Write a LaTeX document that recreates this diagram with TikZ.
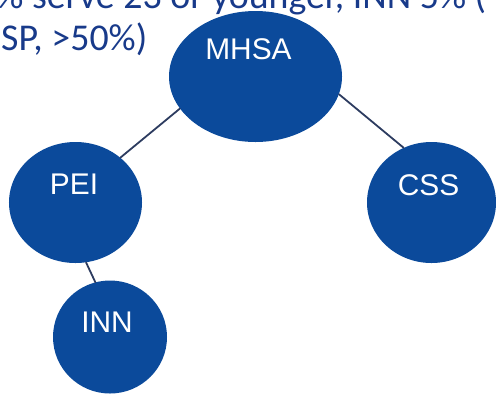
\documentclass[tikz,border=0pt]{standalone}
\usepackage{fontspec}
\setmainfont{Carlito}
\newfontfamily\arialfont{Liberation Sans}
\usetikzlibrary{shapes.geometric}
\definecolor{bubbleblue}{RGB}{11,74,155}
\definecolor{headblue}{RGB}{24,58,138}
\definecolor{linkgray}{RGB}{45,60,96}
\tikzset{
  bubble/.style={ellipse,fill=bubbleblue,inner sep=0pt},
  caption/.style={text=white,inner sep=0pt,
    font=\arialfont\fontsize{30}{36}\selectfont},
  headline/.style={anchor=base west,inner sep=0pt,text=headblue,
    font=\fontsize{38}{46}\selectfont},
  link/.style={draw=linkgray,line width=1.8bp}
}
\begin{document}
\begin{tikzpicture}[x=1bp,y=-1bp,line cap=round,line join=round]
  \useasboundingbox (0,0) rectangle (496,394);
  \clip (0,0) rectangle (496,394);
  % heading, cut off at the top
  \node[headline] (head1) at (-23,8) {2\% serve 23 or younger, INN 5\% (};
  \node[headline] (head2) at (1,50) {SP, >50\%)};
  % bubbles
  \node[bubble,minimum width=173bp,minimum height=131bp,
    label={[caption,name=mhsa-text,xshift=-7bp,yshift=27bp]center:MHSA}]
    (mhsa) at (255.5,76.5) {};
  \node[bubble,minimum width=133bp,minimum height=121bp,
    label={[caption,name=pei-text,xshift=-1.5bp,yshift=18.5bp]center:PEI}]
    (pei) at (75.5,202.5) {};
  \node[bubble,minimum width=129bp,minimum height=121bp,
    label={[caption,name=css-text,xshift=-3bp,yshift=17.5bp]center:CSS}]
    (css) at (431.5,202.5) {};
  \node[bubble,minimum width=114bp,minimum height=113bp,
    label={[caption,name=inn-text,xshift=-3bp,yshift=15bp]center:INN}]
    (inn) at (110,337) {};
  % links
  \draw[link] (mhsa.203) -- (pei.45);
  \draw[link] (mhsa.348) -- (css.117);
  \draw[link] (pei.280) -- (inn.105);
\end{tikzpicture}
\end{document}
